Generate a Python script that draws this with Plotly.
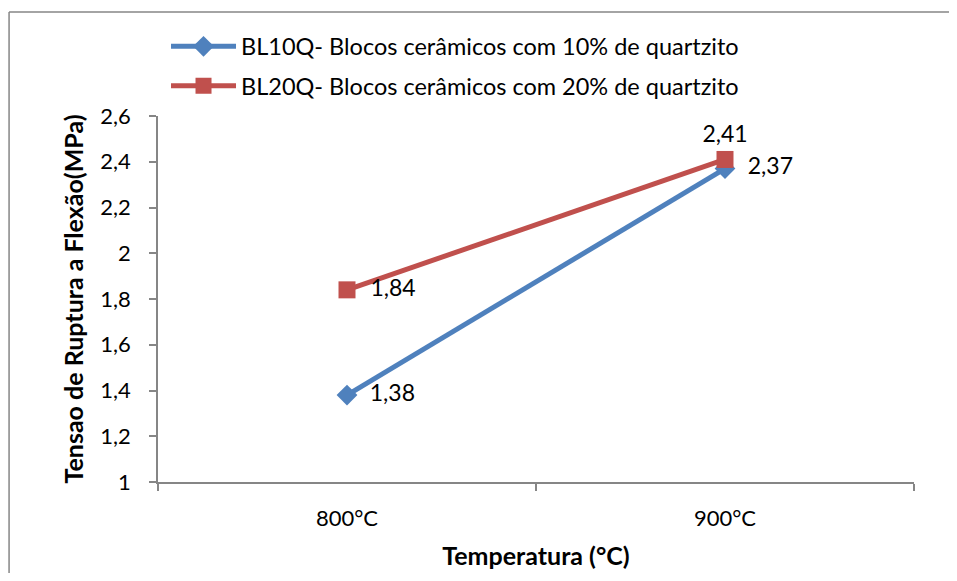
import plotly.graph_objects as go

categories = ["800°C", "900°C"]
bl10q = [1.38, 2.37]
bl20q = [1.84, 2.41]
name10 = "BL10Q- Blocos cerâmicos com 10% de quartzito"
name20 = "BL20Q- Blocos cerâmicos com 20% de quartzito"
y_ticks = [1, 1.2, 1.4, 1.6, 1.8, 2, 2.2, 2.4, 2.6]

FONT = "Lato"
AX = "#868686"
PAD = "\u00a0\u00a0"

fig = go.Figure()
fig.add_trace(go.Scatter(
    x=categories, y=bl10q, name=name10, mode="lines+markers+text",
    line=dict(color="#4F81BD", width=5),
    marker=dict(symbol="diamond", size=16, color="#4F81BD"),
    texttemplate=[PAD + "%{y:.2f}", PAD + "%{y:.2f}"],
    textposition=["middle right", "middle right"],
    textfont=dict(family=FONT, size=23, color="black"),
    legendgroup="a",
))
fig.add_trace(go.Scatter(
    x=categories, y=bl20q, name=name20, mode="lines+markers+text",
    line=dict(color="#C0504D", width=5),
    marker=dict(symbol="square", size=17, color="#C0504D"),
    texttemplate=[PAD + "%{y:.2f}", "%{y:.2f}"],
    textposition=["middle right", "top center"],
    textfont=dict(family=FONT, size=23, color="black"),
    legendgroup="b",
))

fig.update_layout(
    width=941, height=565,
    margin=dict(l=150, r=35, t=108, b=91, autoexpand=False),
    paper_bgcolor="white", plot_bgcolor="white",
    separators=",.",
    font=dict(family=FONT, size=22, color="black"),
    showlegend=True,
    legend=dict(x=0.0106, y=1.25, xanchor="left", yanchor="top",
                font=dict(family=FONT, size=23.5, color="black"),
                tracegroupgap=6, bgcolor="rgba(0,0,0,0)", itemwidth=65),
    xaxis=dict(type="category", range=[-0.5, 1.5], showline=True, linecolor=AX,
               linewidth=1.5, ticks="outside", tickson="boundaries", ticklen=7,
               tickcolor=AX, tickwidth=1.5, showgrid=False, zeroline=False,
               tickfont=dict(family=FONT, size=22), ticklabelstandoff=16,
               title=dict(text="<b>Temperatura (°C)</b>", standoff=17,
                          font=dict(family=FONT, size=25))),
    yaxis=dict(range=[1, 2.6], tickvals=y_ticks, showline=True, linecolor=AX,
               linewidth=1.5, ticks="outside", ticklen=7, tickcolor=AX, tickwidth=1.5,
               showgrid=False, zeroline=False, tickfont=dict(family=FONT, size=22),
               ticklabelstandoff=14,
               title=dict(text="<b>Tensao de Ruptura a Flexão(MPa)</b>", standoff=10,
                          font=dict(family=FONT, size=25))),
    shapes=[
        dict(type="line", xref="paper", yref="paper",
             x0=-0.197, x1=1.1, y0=1.284, y1=1.284,
             line=dict(color=AX, width=1.5), layer="below"),
        dict(type="line", xref="paper", yref="paper",
             x0=-0.197, x1=-0.197, y0=-0.3, y1=1.284,
             line=dict(color=AX, width=1.5), layer="below"),
    ],
)

fig.write_html("out.html")
